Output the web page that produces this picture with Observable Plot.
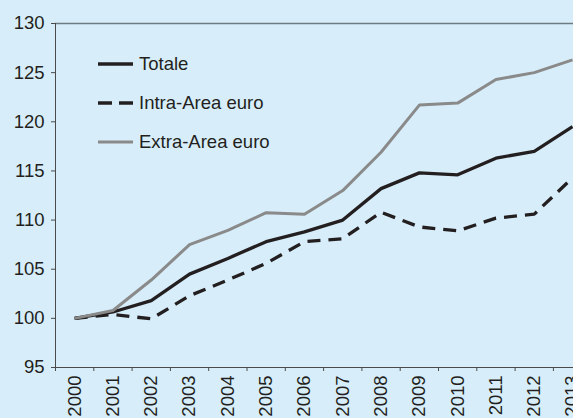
<!DOCTYPE html>
<html>
<head>
<meta charset="utf-8">
<script src="https://cdn.jsdelivr.net/npm/d3@7"></script>
<script src="https://cdn.jsdelivr.net/npm/@observablehq/plot@0.6"></script>
<style>
  html, body { margin: 0; padding: 0; background: #d7eefa; overflow: hidden; }
  #wrap { position: relative; width: 573px; height: 418px; overflow: hidden; background: #d7eefa; }
  #wrap svg { overflow: hidden; }
  #legend { position: absolute; left: 98px; top: 52px; font-family: "Liberation Sans", Arial, Helvetica, sans-serif; font-size: 18.5px; color: #231f20; }
  #legend .row { display: flex; align-items: center; height: 23px; margin-bottom: 16.4px; }
  #legend svg { width: 35px; height: 8px; margin-right: 6px; overflow: visible; }
</style>
</head>
<body>
<div id="wrap"><div id="legend"></div></div>
<script>
const years = [2000, 2001, 2002, 2003, 2004, 2005, 2006, 2007, 2008, 2009, 2010, 2011, 2012, 2013];
const totale = [100, 100.65, 101.8, 104.5, 106.1, 107.8, 108.8, 110.0, 113.2, 114.8, 114.6, 116.3, 117.0, 119.5];
const intraArea = [100, 100.4, 99.95, 102.3, 103.9, 105.6, 107.8, 108.1, 110.8, 109.3, 108.9, 110.2, 110.6, 114.3];
const extraArea = [100, 100.8, 103.9, 107.5, 108.95, 110.75, 110.6, 113.0, 116.9, 121.7, 121.9, 124.3, 125.0, 126.3];
const yTicks = [95, 100, 105, 110, 115, 120, 125, 130];
const seriesNames = ["Totale", "Intra-Area euro", "Extra-Area euro"];

const seriesStyle = {
  "Totale": {stroke: "#231f20", strokeWidth: 3.3, dash: null},
  "Intra-Area euro": {stroke: "#231f20", strokeWidth: 3.3, dash: "13,8"},
  "Extra-Area euro": {stroke: "#8a8a8a", strokeWidth: 3, dash: null}
};
const seriesValues = {"Totale": totale, "Intra-Area euro": intraArea, "Extra-Area euro": extraArea};

const rows = seriesNames.flatMap(name => years.map((year, i) => ({series: name, year, value: seriesValues[name][i]})));
const bounds = d3.range(years.length + 1).map(i => years[0] - 0.5 + i);

const lineMarks = seriesNames.map(name => Plot.line(rows.filter(d => d.series === name), {
  x: "year", y: "value",
  stroke: seriesStyle[name].stroke,
  strokeWidth: seriesStyle[name].strokeWidth,
  strokeDasharray: seriesStyle[name].dash,
  strokeLinejoin: "miter",
  strokeLinecap: "butt",
  clip: true
}));

const chart = Plot.plot({
  width: 573,
  height: 418,
  marginLeft: 55,
  marginRight: 0,
  marginTop: 23,
  marginBottom: 51,
  style: {background: "#d7eefa", fontFamily: "'Liberation Sans', Arial, Helvetica, sans-serif", fontSize: "18.5px", color: "#231f20"},
  x: {type: "linear", domain: [years[0] - 0.5, years[years.length - 1] + 0.5], range: [55, 55 + 14 * 38.3]},
  y: {domain: [95, 130]},
  marks: [
    Plot.ruleY([130], {stroke: "#6e7c82", strokeWidth: 1.3}),
    Plot.ruleX([years[0] - 0.5], {stroke: "#4a4a4a", strokeWidth: 1}),
    Plot.ruleY([95], {stroke: "#4a4a4a", strokeWidth: 1}),
    Plot.axisY({ticks: yTicks, tickSize: 4, tickPadding: 7, tickFormat: d => String(d), stroke: "#4a4a4a", fill: "#231f20", fontSize: 18.5, label: null}),
    Plot.axisX({ticks: bounds, tickSize: 4, tickFormat: () => "", stroke: "#4a4a4a", label: null}),
    Plot.axisX({ticks: years, tickSize: 0, tickPadding: 8, tickRotate: -90, tickFormat: d => String(d), fill: "#231f20", fontSize: 18.5, label: null}),
    ...lineMarks
  ]
});
document.getElementById("wrap").prepend(chart);

const legend = document.getElementById("legend");
seriesNames.forEach(name => {
  const s = seriesStyle[name];
  const row = document.createElement("div");
  row.className = "row";
  row.innerHTML = `<svg viewBox="0 0 35 8"><line x1="0" x2="35" y1="4" y2="4" stroke="${s.stroke}" stroke-width="${s.strokeWidth}" ${s.dash ? `stroke-dasharray="14,7"` : ""}/></svg><span>${name}</span>`;
  legend.appendChild(row);
});
</script>
</body>
</html>
